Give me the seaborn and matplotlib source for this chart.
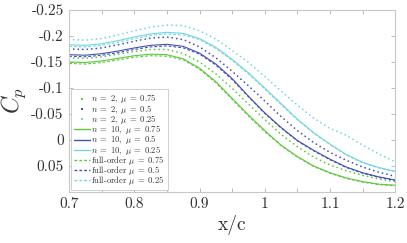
"""
Cp distribution near trailing edge: reduced-order (n = 2, n = 10) vs full-order
"""
import matplotlib
matplotlib.use('Agg')
import matplotlib.pyplot as plt
import seaborn as sns
import pandas as pd
from matplotlib.lines import Line2D

sns.set_style("ticks")
plt.rcParams['font.family'] = 'serif'
plt.rcParams['font.serif'] = ['cmr10', 'DejaVu Serif']
plt.rcParams['mathtext.fontset'] = 'cm'
plt.rcParams['axes.formatter.use_mathtext'] = True

# x/c positions
x_c = [0.700, 0.725, 0.750, 0.775, 0.800, 0.825, 0.850, 0.875, 0.900, 0.925, 0.950,
       0.975, 1.000, 1.025, 1.050, 1.075, 1.100, 1.125, 1.150, 1.175, 1.200]

# n = 2
cp_n2_075 = [-0.158, -0.157, -0.160, -0.165, -0.170, -0.174, -0.174, -0.166, -0.150, -0.127, -0.099,
             -0.069, -0.039, -0.011, 0.013, 0.033, 0.048, 0.059, 0.068, 0.075, 0.080]
cp_n2_050 = [-0.175, -0.174, -0.177, -0.183, -0.190, -0.196, -0.198, -0.193, -0.179, -0.158, -0.132,
             -0.104, -0.075, -0.045, -0.018, 0.005, 0.024, 0.039, 0.052, 0.062, 0.070]
cp_n2_025 = [-0.193, -0.192, -0.195, -0.202, -0.210, -0.217, -0.221, -0.220, -0.210, -0.194, -0.172,
             -0.149, -0.122, -0.094, -0.067, -0.042, -0.022, -0.009, 0.010, 0.027, 0.042]

# n = 10
cp_n10_075 = [-0.150, -0.149, -0.152, -0.157, -0.162, -0.165, -0.164, -0.156, -0.138, -0.112, -0.080,
              -0.048, -0.018, 0.010, 0.032, 0.050, 0.063, 0.073, 0.080, 0.085, 0.087]
cp_n10_050 = [-0.164, -0.163, -0.166, -0.171, -0.177, -0.182, -0.184, -0.180, -0.167, -0.146, -0.118,
              -0.084, -0.052, -0.024, 0.001, 0.020, 0.037, 0.052, 0.063, 0.071, 0.077]
cp_n10_025 = [-0.183, -0.182, -0.185, -0.191, -0.198, -0.204, -0.207, -0.205, -0.195, -0.178, -0.155,
              -0.129, -0.100, -0.070, -0.040, -0.014, 0.008, 0.028, 0.043, 0.053, 0.060]

# full-order
cp_full_075 = [-0.147, -0.146, -0.149, -0.154, -0.159, -0.162, -0.161, -0.154, -0.136, -0.110, -0.078,
               -0.046, -0.016, 0.011, 0.033, 0.051, 0.064, 0.074, 0.081, 0.086, 0.088]
cp_full_050 = [-0.161, -0.160, -0.163, -0.168, -0.174, -0.179, -0.181, -0.177, -0.165, -0.144, -0.116,
               -0.083, -0.051, -0.023, 0.002, 0.021, 0.038, 0.053, 0.064, 0.072, 0.078]
cp_full_025 = [-0.180, -0.179, -0.182, -0.188, -0.195, -0.201, -0.204, -0.202, -0.193, -0.176, -0.153,
               -0.127, -0.098, -0.068, -0.039, -0.013, 0.009, 0.029, 0.044, 0.054, 0.061]

y_ticks = [-0.25, -0.2, -0.15, -0.1, -0.05, 0, 0.05]
y_tick_labels = ['-0.25', '-0.2', '-0.15', '-0.1', '-0.05', '0', '0.05']
x_ticks = [0.7, 0.8, 0.9, 1.0, 1.1, 1.2]
x_tick_labels = ['0.7', '0.8', '0.9', '1', '1.1', '1.2']

c_green = '#5cc83c'
c_blue = '#4450b4'
c_cyan = '#72d6de'

series = [
    (cp_n2_075, c_green, 'n2', r'$n\;=\;2,\ \mu\;=\;0.75$'),
    (cp_n2_050, c_blue, 'n2', r'$n\;=\;2,\ \mu\;=\;0.5$'),
    (cp_n2_025, c_cyan, 'n2', r'$n\;=\;2,\ \mu\;=\;0.25$'),
    (cp_n10_075, c_green, 'n10', r'$n\;=\;10,\ \mu\;=\;0.75$'),
    (cp_n10_050, c_blue, 'n10', r'$n\;=\;10,\ \mu\;=\;0.5$'),
    (cp_n10_025, c_cyan, 'n10', r'$n\;=\;10,\ \mu\;=\;0.25$'),
    (cp_full_075, c_green, 'full', r'full-order $\mu\;=\;0.75$'),
    (cp_full_050, c_blue, 'full', r'full-order $\mu\;=\;0.5$'),
    (cp_full_025, c_cyan, 'full', r'full-order $\mu\;=\;0.25$'),
]

fig = plt.figure(figsize=(4.07, 2.43), dpi=100)
ax = fig.add_axes([0.170, 0.210, 0.801, 0.749])

dash_full = (0, (2.5, 1.8))
handles = []
labels = []
for vals, col, kind, lab in series:
    df = pd.DataFrame({'x': x_c, 'cp': vals})
    n_before = len(ax.lines)
    if kind == 'n2':
        sns.lineplot(data=df, x='x', y='cp', ax=ax, color=col, linewidth=1.3,
                     legend=False)
        handles.append(Line2D([], [], ls='none', marker='s', markersize=1.8,
                              markeredgewidth=0, color=col))
    elif kind == 'n10':
        sns.lineplot(data=df, x='x', y='cp', ax=ax, color=col, linewidth=0.8,
                     legend=False)
        handles.append(Line2D([], [], color=col, linewidth=1.0))
    else:
        sns.lineplot(data=df, x='x', y='cp', ax=ax, color=col, linewidth=0.8,
                     legend=False)
        handles.append(Line2D([], [], color=col, linewidth=1.0, linestyle=(0, (2.0, 1.5))))
    for ln in ax.lines[n_before:]:
        if kind == 'n2':
            ln.set_linestyle((0, (0.01, 2.5)))
            ln.set_dash_capstyle('round')
        elif kind == 'full':
            ln.set_linestyle(dash_full)
    labels.append(lab)

ax.set_xlim(0.7, 1.2)
ax.set_ylim(0.1, -0.25)
ax.set_xticks(x_ticks)
ax.set_xticklabels(x_tick_labels)
ax.set_xticks([0.75, 0.85, 0.95, 1.05, 1.15], minor=True)
ax.set_yticks(y_ticks)
ax.set_yticklabels(y_tick_labels)

ax.tick_params(axis='both', which='both', direction='in', top=True, right=True,
               color='#b0b0b0', labelcolor='#333333', labelsize=11, length=3, width=0.6, pad=4)
for s in ax.spines.values():
    s.set_color('#c8c8c8')
    s.set_linewidth(0.8)

ax.set_xlabel('x/c', fontsize=14, color='#333333', labelpad=3)
ax.set_ylabel(r'$C_p$', fontsize=17, color='#333333', labelpad=2)

leg = ax.legend(handles, labels, loc='lower left', fontsize=6.2, frameon=True,
                fancybox=False, framealpha=1, edgecolor='#c8c8c8', borderaxespad=0.2,
                handlelength=1.9, handletextpad=0.1, labelspacing=-0.32, borderpad=0.35,
                handleheight=0.5)
leg.get_frame().set_linewidth(0.6)
for t in leg.get_texts():
    t.set_color('#333333')

plt.savefig('out.png', dpi=100)
plt.close()
